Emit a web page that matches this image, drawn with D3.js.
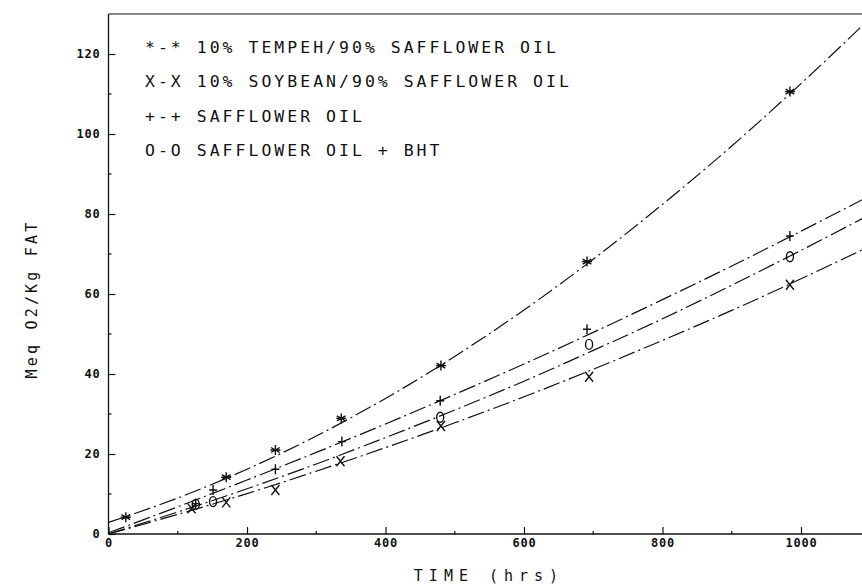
<!DOCTYPE html>
<html>
<head>
<meta charset="utf-8">
<script src="https://cdn.jsdelivr.net/npm/d3@7"></script>
<style>
  html, body { margin: 0; padding: 0; background: #fff; }
  svg { display: block; }
</style>
</head>
<body>
<svg id="chart" width="862" height="586"></svg>
<script>
// ---------- data ----------
const xTicks = [0, 200, 400, 600, 800, 1000];
const xMinorTicks = [100, 300, 500, 700, 900];
const yTicks = [0, 20, 40, 60, 80, 100, 120];
const yMinorTicks = [10, 30, 50, 70, 90, 110];

const legendLabels = [
  "*-* 10% TEMPEH/90% SAFFLOWER OIL",
  "X-X 10% SOYBEAN/90% SAFFLOWER OIL",
  "+-+ SAFFLOWER OIL",
  "O-O SAFFLOWER OIL + BHT"
];

// measured points
const tempehTime   = [25, 170, 241, 336, 480, 691, 984];
const tempehValue  = [4.2, 14.2, 21.0, 28.9, 42.1, 68.1, 110.6];

const soybeanTime  = [120, 170, 241, 335, 480, 694, 984];
const soybeanValue = [6.4, 7.9, 11.0, 18.2, 27.0, 39.3, 62.3];

const saffTime     = [126, 151, 241, 337, 479, 691, 984];
const saffValue    = [7.6, 11.0, 16.2, 23.1, 33.3, 51.2, 74.5];

const bhtTime      = [126, 151, 479, 694, 984];
const bhtValue     = [7.4, 8.1, 29.2, 47.4, 69.3];

// fitted curves at every 100 hrs
const curveTime    = [0, 100, 200, 300, 400, 500, 600, 700, 800, 900, 1000, 1100];
const tempehCurve  = [2.9, 9.0, 16.2, 24.5, 33.9, 44.4, 56.0, 68.7, 82.4, 97.0, 112.6, 129.0];
const saffCurve    = [0.3, 6.8, 13.5, 20.4, 27.5, 34.9, 42.5, 50.4, 58.6, 67.0, 75.7, 84.6];
const bhtCurve     = [0.0, 5.5, 11.3, 17.5, 24.1, 31.0, 38.2, 45.9, 53.8, 62.2, 70.9, 79.9];
const soybeanCurve = [0.0, 4.9, 10.1, 15.7, 21.6, 27.8, 34.3, 41.2, 48.4, 55.9, 63.8, 72.0];

// ---------- layout ----------
const W = 862, H = 586;
const svg = d3.select("#chart");
const x = d3.scaleLinear().domain([0, 1100]).range([108.5, 870.25]);
const y = d3.scaleLinear().domain([0, 130]).range([534, 14]);

const ink = "#111";
const monoFont = "'DejaVu Sans Mono', 'Liberation Mono', monospace";

// top frame line
svg.append("line")
  .attr("x1", x(0)).attr("x2", W)
  .attr("y1", y(130)).attr("y2", y(130))
  .attr("stroke", ink).attr("stroke-width", 1.2);

// Y axis
const yAxis = svg.append("g")
  .attr("transform", `translate(${x(0)},0)`)
  .call(d3.axisLeft(y).tickValues(yTicks).tickSizeInner(-7).tickSizeOuter(0)
        .tickPadding(8).tickFormat(d3.format("d")));
yAxis.select(".domain").attr("stroke", ink).attr("stroke-width", 1.3)
  .attr("d", `M0,${y(0)}V${y(130)}`);
yAxis.selectAll(".tick line").attr("stroke", ink).attr("stroke-width", 1.2);
yAxis.selectAll(".tick text")
  .attr("font-family", monoFont).attr("font-size", 12).attr("font-weight", "bold")
  .attr("letter-spacing", 0.8).attr("fill", ink);
svg.append("g").selectAll("line").data(yMinorTicks).join("line")
  .attr("x1", x(0)).attr("x2", x(0) + 3)
  .attr("y1", d => y(d)).attr("y2", d => y(d))
  .attr("stroke", ink).attr("stroke-width", 1.2);

// X axis
const xAxis = svg.append("g")
  .attr("transform", `translate(0,${y(0)})`)
  .call(d3.axisBottom(x).tickValues(xTicks).tickSizeInner(-7).tickSizeOuter(0)
        .tickPadding(4).tickFormat(d3.format("d")));
xAxis.select(".domain").attr("stroke", ink).attr("stroke-width", 1.3)
  .attr("d", `M${x(0)},0H${W}`);
xAxis.selectAll(".tick line").attr("stroke", ink).attr("stroke-width", 1.2);
xAxis.selectAll(".tick text")
  .attr("font-family", monoFont).attr("font-size", 12).attr("font-weight", "bold")
  .attr("letter-spacing", 0.8).attr("fill", ink);
svg.append("g").selectAll("line").data(xMinorTicks).join("line")
  .attr("x1", d => x(d)).attr("x2", d => x(d))
  .attr("y1", y(0)).attr("y2", y(0) - 3)
  .attr("stroke", ink).attr("stroke-width", 1.2);

// Axis titles
svg.append("text")
  .attr("transform", `translate(37,299) rotate(-90)`)
  .attr("text-anchor", "middle")
  .attr("font-family", monoFont).attr("font-size", 15)
  .attr("letter-spacing", 3.2).attr("fill", ink)
  .text("Meq O2/Kg FAT");

svg.append("text")
  .attr("x", 489).attr("y", 581)
  .attr("text-anchor", "middle")
  .attr("font-family", monoFont).attr("font-size", 15)
  .attr("letter-spacing", 6).attr("fill", ink)
  .text("TIME (hrs)");

// Curves
const line = d3.line().x(d => x(d[0])).y(d => y(d[1])).curve(d3.curveMonotoneX);
const curves = [tempehCurve, soybeanCurve, saffCurve, bhtCurve];
svg.append("g").selectAll("path").data(curves).join("path")
  .attr("d", vals => line(curveTime.map((t, i) => [t, vals[i]])))
  .attr("fill", "none").attr("stroke", ink).attr("stroke-width", 1.2)
  .attr("stroke-dasharray", "17,4,2,4");

// Markers
const s = 5;
const markerPaths = {
  star: `M0,${-s}V${s}M${-s*0.87},${-s*0.5}L${s*0.87},${s*0.5}M${-s*0.87},${s*0.5}L${s*0.87},${-s*0.5}M${-s},0H${s}`,
  cross: `M${-4},${-5}L4,5M${-4},5L4,${-5}`,
  plus: `M0,${-5}V5M${-4},0H4`,
  circle: `M0,-5A3.5,5 0 1,1 0,5A3.5,5 0 1,1 0,-5Z`
};
const series = [
  { t: tempehTime, v: tempehValue, m: "star" },
  { t: soybeanTime, v: soybeanValue, m: "cross" },
  { t: saffTime, v: saffValue, m: "plus" },
  { t: bhtTime, v: bhtValue, m: "circle" }
];
series.forEach(sr => {
  svg.append("g").selectAll("path").data(sr.t.map((t, i) => [t, sr.v[i]])).join("path")
    .attr("transform", d => `translate(${x(d[0])},${y(d[1])})`)
    .attr("d", markerPaths[sr.m])
    .attr("fill", "none").attr("stroke", ink).attr("stroke-width", 1.4);
});

// Legend
const legendBase = [53, 87, 121.5, 156];
svg.append("g").selectAll("text").data(legendLabels).join("text")
  .attr("x", 145).attr("y", (d, i) => legendBase[i])
  .attr("font-family", monoFont).attr("font-size", 16.5)
  .attr("letter-spacing", 3.0).attr("fill", ink)
  .text(d => d);
</script>
</body>
</html>
